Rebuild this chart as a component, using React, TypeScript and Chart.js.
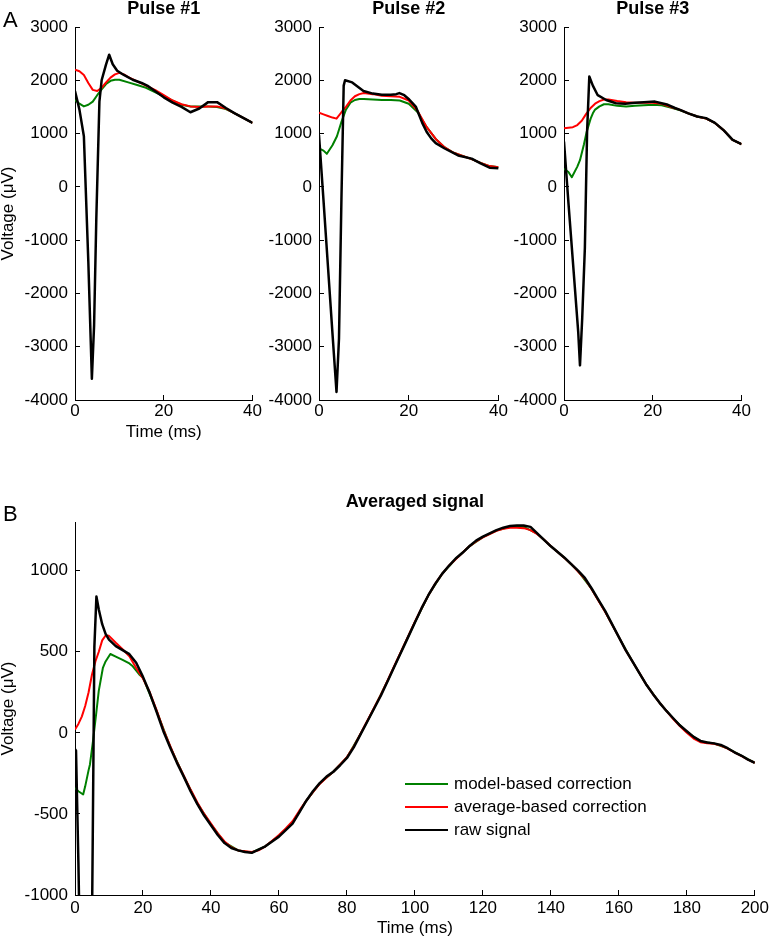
import React, { useEffect, useRef } from "react";
import { Chart, registerables } from "chart.js";

Chart.register(...registerables);

const FONT = "'Liberation Sans', Arial, Helvetica, sans-serif";

// ---------- series meta ----------
const seriesLabels = ["model-based correction", "average-based correction", "raw signal"];
const seriesColors = ["#008000", "#ff0000", "#000000"];
const seriesWidths = [2, 2, 2.5];

// ---------- ticks ----------
const pulseXTicks = [0, 20, 40];
const pulseYTicks = [-4000, -3000, -2000, -1000, 0, 1000, 2000, 3000];
const avgXTicks = [0, 20, 40, 60, 80, 100, 120, 140, 160, 180, 200];
const avgYTicks = [-1000, -500, 0, 500, 1000];

// ---------- Pulse #1 ----------
const p1GreenT = [0, 1, 2, 3, 4, 5, 6, 7, 8, 9, 10, 12, 14, 16, 18, 20, 22, 24, 26, 28, 30, 32, 34, 36, 38, 40];
const p1GreenV = [1630, 1560, 1510, 1540, 1600, 1720, 1830, 1930, 1990, 2010, 2010, 1960, 1910, 1860, 1780, 1700, 1620, 1540, 1510, 1510, 1510, 1500, 1460, 1380, 1290, 1200];
const p1RedT = [0, 1, 2, 3, 4, 5, 6, 7, 8, 9, 10, 11, 12, 14, 16, 18, 20, 22, 24, 26, 28, 30, 32, 34, 36, 38, 40];
const p1RedV = [2200, 2170, 2100, 1950, 1820, 1800, 1860, 1960, 2050, 2110, 2140, 2110, 2060, 1980, 1900, 1820, 1720, 1620, 1550, 1510, 1500, 1510, 1510, 1470, 1380, 1290, 1200];
const p1BlackT = [0, 1, 2, 3, 3.8, 4.3, 4.8, 5.5, 6, 7, 7.7, 8.5, 9.5, 11, 13, 15, 16.5, 18, 20, 22, 24, 26, 28, 30, 32, 34, 36, 38, 40];
const p1BlackV = [1800, 1450, 950, -1400, -3600, -2600, -600, 1600, 2000, 2300, 2480, 2300, 2180, 2100, 2010, 1950, 1890, 1800, 1680, 1580, 1500, 1400, 1470, 1590, 1590, 1480, 1380, 1290, 1200];

// ---------- Pulse #2 ----------
const p2GreenT = [0, 1, 1.75, 3, 4, 5, 6, 7, 8, 9, 10, 12, 14, 16, 18, 20, 22, 24, 26, 28, 30, 32, 34, 36, 38, 40];
const p2GreenV = [720, 680, 620, 780, 950, 1220, 1450, 1580, 1630, 1650, 1650, 1640, 1630, 1630, 1620, 1560, 1400, 1120, 900, 740, 640, 580, 520, 450, 390, 370];
const p2RedT = [0, 1, 2, 3, 3.9, 5, 6, 7, 8, 9, 10, 12, 14, 16, 18, 20, 22, 24, 26, 28, 30, 32, 34, 36, 38, 40];
const p2RedV = [1390, 1360, 1330, 1300, 1280, 1400, 1500, 1620, 1700, 1740, 1760, 1740, 1710, 1700, 1690, 1620, 1420, 1120, 900, 740, 640, 580, 520, 450, 390, 370];
const p2BlackT = [0, 1, 2, 3, 3.9, 4.45, 5, 5.5, 5.8, 7.4, 9.9, 12, 14, 16, 17.2, 17.9, 19, 20.1, 21.6, 23, 24, 25, 26, 28, 31, 34, 36, 38, 40];
const p2BlackV = [970, -250, -1500, -2750, -3850, -2850, -220, 1900, 2000, 1960, 1800, 1750, 1730, 1730, 1740, 1760, 1720, 1640, 1500, 1200, 1030, 910, 820, 720, 590, 530, 440, 360, 350];

// ---------- Pulse #3 ----------
const p3GreenT = [0, 1, 1.76, 3, 3.6, 4.5, 5.1, 6, 6.5, 7, 8, 9, 10, 12, 14, 16, 18, 20, 22, 24, 26, 28, 30, 32, 34, 36, 38, 40];
const p3GreenV = [340, 280, 180, 380, 500, 800, 1030, 1280, 1380, 1450, 1510, 1550, 1550, 1520, 1510, 1520, 1530, 1540, 1530, 1490, 1440, 1380, 1320, 1280, 1200, 1060, 880, 800];
const p3RedT = [0, 1, 2, 3, 4, 5, 6, 7, 8, 9, 10, 12, 14, 16, 18, 20, 22, 24, 26, 28, 30, 32, 34, 36, 38, 40];
const p3RedV = [1100, 1110, 1120, 1160, 1240, 1370, 1480, 1560, 1610, 1640, 1640, 1610, 1590, 1580, 1580, 1580, 1560, 1500, 1450, 1380, 1320, 1280, 1200, 1060, 880, 800];
const p3BlackT = [0, 1, 2, 3, 3.2, 3.6, 4.1, 4.7, 5.2, 5.7, 6.5, 7.6, 9.5, 11.7, 13.8, 16, 18, 20.5, 22, 23.4, 25, 26.3, 28, 30, 32, 34, 36, 38, 40];
const p3BlackV = [850, -300, -1400, -2500, -2720, -3350, -2470, -1150, 1030, 2070, 1900, 1720, 1630, 1570, 1560, 1580, 1590, 1600, 1570, 1540, 1480, 1440, 1380, 1320, 1290, 1200, 1060, 880, 800];

// ---------- Averaged signal ----------
const avgGreenT = [0, 1, 2.4, 3, 4, 4.4, 5.3, 6.3, 7, 8.2, 9, 10.4, 12, 14, 16, 17, 18.9, 20, 24, 28, 32, 36, 40, 44, 48, 52, 56, 60, 64, 68, 72, 76, 80, 84, 88, 92, 96, 100, 104, 108, 112, 116, 120, 124, 128, 132, 136, 140, 144, 148, 152, 156, 160, 164, 168, 172, 176, 180, 184, 188, 192, 196, 200];
const avgGreenV = [-340, -360, -380, -330, -230, -195, -50, 130, 260, 400, 440, 486, 470, 450, 428, 410, 360, 340, 135, -85, -268, -435, -565, -675, -725, -738, -700, -635, -552, -420, -312, -240, -152, -8, 152, 322, 502, 682, 850, 980, 1072, 1150, 1207, 1247, 1270, 1270, 1228, 1150, 1079, 997, 887, 747, 590, 440, 300, 185, 88, 5, -54, -66, -96, -141, -185];

const avgRedT = [0, 1, 2, 3, 4, 5, 6, 7, 8, 9, 10, 12, 14, 16, 18,
  20, 22, 24, 26, 28, 30, 32, 34, 36, 38,
  40, 42, 44, 46, 48, 50, 52, 54, 56, 58,
  60, 62, 64, 66, 68, 70, 72, 74, 76, 78,
  80, 82, 84, 86, 88, 90, 92, 94, 96, 98,
  100, 102, 104, 106, 108, 110, 112, 114, 116, 118,
  120, 122, 124, 126, 128, 130, 132, 134, 136, 138,
  140, 142, 144, 146, 148, 150, 152, 154, 156, 158,
  160, 162, 164, 166, 168, 170, 172, 174, 176, 178,
  180, 182, 184, 186, 188, 190, 192, 194, 196, 198,
  200];
const avgRedV = [20, 55, 100, 165, 250, 360, 440, 500, 570, 600, 598, 555, 515, 472, 400,
  335, 250, 140, 20, -80, -180, -265, -350, -430, -500,
  -560, -620, -670, -705, -725, -730, -735, -725, -700, -665,
  -630, -590, -545, -480, -420, -365, -315, -275, -240, -195,
  -150, -85, -5, 75, 155, 235, 325, 415, 505, 595,
  685, 770, 850, 920, 980, 1030, 1070, 1110, 1150, 1180,
  1205, 1225, 1245, 1258, 1265, 1265, 1262, 1250, 1225, 1190,
  1150, 1115, 1078, 1040, 995, 950, 885, 815, 745, 668,
  590, 510, 440, 370, 300, 240, 185, 135, 85, 40,
  0, -35, -58, -65, -68, -78, -98, -120, -142, -165,
  -185];

const avgBlackT = [0, 0.3, 1, 2, 3, 4, 4.9, 5.2, 5.7, 6.3, 7, 8, 9, 10,
  12, 14, 16, 18, 20, 22, 24, 26, 28, 30,
  32, 34, 36, 38, 40, 42, 44, 46, 48, 50,
  52, 54, 56, 58, 60, 62, 64, 66, 68, 70,
  72, 74, 76, 78, 80, 82, 84, 86, 88, 90,
  92, 94, 96, 98, 100, 102, 104, 106, 108, 110,
  112, 114, 116, 118, 120, 122, 124, 126, 128, 130,
  132, 134, 136, 138, 140, 142, 144, 146, 148, 150,
  152, 154, 156, 158, 160, 162, 164, 166, 168, 170,
  172, 174, 176, 178, 180, 182, 184, 186, 188, 190,
  192, 194, 196, 198, 200];
const avgBlackV = [-100, -110, -800, -2000, -2800, -2600, -1400, -700, 530, 840, 760, 670, 610, 575,
  535, 510, 485, 432, 345, 245, 130, 10, -90, -185,
  -270, -360, -440, -510, -570, -630, -680, -710, -725, -735,
  -740, -720, -700, -670, -640, -600, -560, -490, -420, -360,
  -310, -270, -240, -200, -155, -90, -10, 70, 150, 230,
  320, 410, 500, 590, 680, 770, 850, 920, 980, 1030,
  1075, 1110, 1150, 1185, 1210, 1230, 1250, 1265, 1275, 1278,
  1278, 1270, 1230, 1190, 1150, 1115, 1080, 1040, 1000, 955,
  890, 820, 750, 670, 590, 510, 440, 370, 300, 240,
  185, 135, 90, 45, 10, -25, -50, -60, -65, -75,
  -95, -120, -140, -165, -185];

type Series = { t: number[]; v: number[] };

function pts(t: number[], v: number[]) {
  return t.map((x, i) => ({ x, y: v[i] }));
}

const legendPlugin = {
  id: "insideLegend",
  afterDatasetsDraw(chart: any, _args: any, opts: any) {
    if (!opts || !opts.display) return;
    const ctx = chart.ctx;
    ctx.save();
    chart.data.datasets.forEach((ds: any, i: number) => {
      const y = opts.y + i * opts.row;
      ctx.strokeStyle = ds.borderColor;
      ctx.lineWidth = 2;
      ctx.beginPath();
      ctx.moveTo(opts.x, y);
      ctx.lineTo(opts.x + opts.len, y);
      ctx.stroke();
      ctx.fillStyle = "#000";
      ctx.font = `17px ${FONT}`;
      ctx.textBaseline = "middle";
      ctx.textAlign = "left";
      ctx.fillText(ds.label, opts.x + opts.len + opts.gap, y);
    });
    ctx.restore();
  },
};

interface PanelCfg {
  left: number;
  top: number;
  width: number;
  height: number;
  title: string;
  padTop: number;
  titlePadBottom: number;
  padRight: number;
  xMin: number;
  xMax: number;
  yMin: number;
  yMax: number;
  xTicks: number[];
  yTicks: number[];
  series: Series[];
  yAxisWidth: number;
  xAxisHeight: number;
  xTickPad: number;
  xTitle?: string;
  xTitlePad: number;
  yTitle?: string;
  legend?: { x: number; y: number; row: number; len: number; gap: number };
}

function Panel({ cfg }: { cfg: PanelCfg }) {
  const ref = useRef<HTMLCanvasElement>(null);
  useEffect(() => {
    const canvas = ref.current as HTMLCanvasElement;
    const tickFont = { family: FONT, size: 17 };
    const axisGrid = {
      display: true,
      drawOnChartArea: false,
      drawTicks: true,
      tickLength: -5,
      color: "#000",
      lineWidth: 1,
    };
    const axisBorder = { display: true, color: "#000", width: 1 };
    const chart = new Chart(canvas, {
      type: "line",
      data: {
        datasets: cfg.series.map((s, i) => ({
          label: seriesLabels[i],
          data: pts(s.t, s.v),
          borderColor: seriesColors[i],
          backgroundColor: seriesColors[i],
          borderWidth: seriesWidths[i],
          pointRadius: 0,
          tension: 0,
          fill: false,
          order: 3 - i,
          borderJoinStyle: "round",
        })),
      } as any,
      options: {
        responsive: false,
        maintainAspectRatio: false,
        animation: false,
        devicePixelRatio: 1,
        events: [],
        layout: { padding: { top: cfg.padTop, right: cfg.padRight, bottom: 0, left: 0 } },
        plugins: {
          legend: { display: false },
          tooltip: { enabled: false },
          title: {
            display: true,
            text: cfg.title,
            fullSize: false,
            color: "#000",
            font: { family: FONT, size: 18, weight: "bold", lineHeight: 1 },
            padding: { top: 0, bottom: cfg.titlePadBottom },
          },
          insideLegend: cfg.legend ? { ...cfg.legend, display: true } : { display: false },
        } as any,
        scales: {
          x: {
            type: "linear",
            min: cfg.xMin,
            max: cfg.xMax,
            afterBuildTicks: (s: any) => {
              s.ticks = cfg.xTicks.map((value) => ({ value }));
            },
            afterFit: (s: any) => {
              s.height = cfg.xAxisHeight;
            },
            ticks: {
              font: tickFont,
              color: "#000",
              padding: cfg.xTickPad,
              maxRotation: 0,
              autoSkip: false,
              callback: (v: any) => String(v),
            },
            grid: axisGrid,
            border: axisBorder,
            title: cfg.xTitle
              ? {
                  display: true,
                  text: cfg.xTitle,
                  color: "#000",
                  font: { family: FONT, size: 17, lineHeight: 1 },
                  padding: { top: 0, bottom: cfg.xTitlePad },
                }
              : { display: false },
          },
          y: {
            type: "linear",
            min: cfg.yMin,
            max: cfg.yMax,
            afterBuildTicks: (s: any) => {
              s.ticks = cfg.yTicks.map((value) => ({ value }));
            },
            afterFit: (s: any) => {
              s.width = cfg.yAxisWidth;
            },
            ticks: {
              font: tickFont,
              color: "#000",
              padding: 12,
              autoSkip: false,
              callback: (v: any) => String(v),
            },
            grid: axisGrid,
            border: axisBorder,
            title: cfg.yTitle
              ? {
                  display: true,
                  text: cfg.yTitle,
                  color: "#000",
                  font: { family: FONT, size: 17, lineHeight: 1 },
                  padding: { top: 0, bottom: 0 },
                }
              : { display: false },
          },
        },
      } as any,
      plugins: [legendPlugin],
    });
    return () => chart.destroy();
  }, []);
  return (
    <canvas
      ref={ref}
      width={cfg.width}
      height={cfg.height}
      style={{ position: "absolute", left: cfg.left, top: cfg.top, width: cfg.width, height: cfg.height }}
    />
  );
}

const pulseBase = {
  top: 0,
  height: 441,
  padTop: 0,
  titlePadBottom: 9,
  padRight: 12,
  xMin: 0,
  xMax: 40,
  yMin: -4000,
  yMax: 3000,
  xTicks: pulseXTicks,
  yTicks: pulseYTicks,
  xAxisHeight: 41,
  xTickPad: 6,
  xTitlePad: 0,
};

const panels: PanelCfg[] = [
  {
    ...pulseBase,
    left: 0,
    width: 268,
    title: "Pulse #1",
    yAxisWidth: 75,
    xTitle: "Time (ms)",
    yTitle: "Voltage (μV)",
    series: [
      { t: p1GreenT, v: p1GreenV },
      { t: p1RedT, v: p1RedV },
      { t: p1BlackT, v: p1BlackV },
    ],
  },
  {
    ...pulseBase,
    left: 260,
    width: 254,
    title: "Pulse #2",
    yAxisWidth: 59,
    series: [
      { t: p2GreenT, v: p2GreenV },
      { t: p2RedT, v: p2RedV },
      { t: p2BlackT, v: p2BlackV },
    ],
  },
  {
    ...pulseBase,
    left: 505,
    width: 252,
    title: "Pulse #3",
    yAxisWidth: 59,
    series: [
      { t: p3GreenT, v: p3GreenV },
      { t: p3RedT, v: p3RedV },
      { t: p3BlackT, v: p3BlackV },
    ],
  },
  {
    left: 0,
    top: 480,
    width: 777,
    height: 461,
    title: "Averaged signal",
    padTop: 13,
    titlePadBottom: 11,
    padRight: 14,
    xMin: 0,
    xMax: 200,
    yMin: -1000,
    yMax: 1300,
    xTicks: avgXTicks,
    yTicks: avgYTicks,
    yAxisWidth: 75,
    xAxisHeight: 46,
    xTickPad: 8,
    xTitle: "Time (ms)",
    xTitlePad: 4.5,
    yTitle: "Voltage (μV)",
    legend: { x: 405, y: 304, row: 23, len: 43, gap: 6 },
    series: [
      { t: avgGreenT, v: avgGreenV },
      { t: avgRedT, v: avgRedV },
      { t: avgBlackT, v: avgBlackV },
    ],
  },
];

const letterStyle: React.CSSProperties = {
  position: "absolute",
  left: 3,
  fontFamily: FONT,
  fontSize: 22,
  lineHeight: "22px",
  color: "#000",
  margin: 0,
};

export default function App() {
  return (
    <div
      style={{
        position: "absolute",
        left: 0,
        top: 0,
        width: 777,
        height: 941,
        overflow: "hidden",
        background: "#fff",
      }}
    >
      {panels.map((cfg, i) => (
        <Panel key={i} cfg={cfg} />
      ))}
      <div style={{ ...letterStyle, top: 9 }}>A</div>
      <div style={{ ...letterStyle, top: 503 }}>B</div>
    </div>
  );
}
